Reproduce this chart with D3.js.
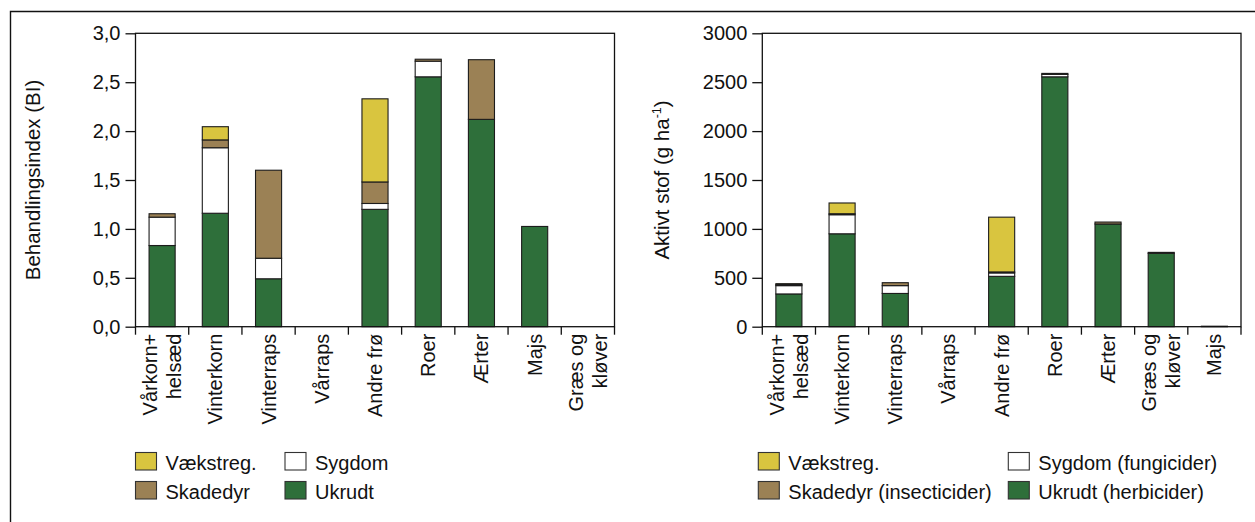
<!DOCTYPE html>
<html>
<head>
<meta charset="utf-8">
<script src="https://cdn.jsdelivr.net/npm/d3@7"></script>
<style>
  html, body { margin: 0; padding: 0; background: #fff; }
  svg { display: block; font-family: "Liberation Sans", Arial, sans-serif; }
</style>
</head>
<body>
<svg id="fig" width="1255" height="522"></svg>
<script>
// Crop groups, one list per panel (the right panel swaps the last two)
const categoriesBI = ["Vårkorn+\nhelsæd", "Vinterkorn", "Vinterraps", "Vårraps", "Andre frø", "Roer", "Ærter", "Majs", "Græs og\nkløver"];
const categoriesAS = ["Vårkorn+\nhelsæd", "Vinterkorn", "Vinterraps", "Vårraps", "Andre frø", "Roer", "Ærter", "Græs og\nkløver", "Majs"];

// Behandlingsindex per pesticide group
const ukrudtBI    = [0.83, 1.16, 0.49, 0, 1.20, 2.555, 2.12, 1.025, 0];
const sygdomBI    = [0.29, 0.67, 0.21, 0, 0.06, 0.16, 0, 0, 0];
const skadedyrBI  = [0.035, 0.08, 0.90, 0, 0.22, 0.02, 0.61, 0, 0];
const vaekstregBI = [0, 0.135, 0, 0, 0.85, 0, 0, 0, 0];

// Aktivt stof (g/ha) per pesticide group
const ukrudtAS    = [335, 950, 340, 0, 515, 2555, 1050, 750, 5];
const sygdomAS    = [85, 195, 80, 0, 35, 25, 0, 0, 0];
const skadedyrAS  = [10, 10, 30, 0, 10, 10, 20, 10, 0];
const vaekstregAS = [10, 110, 0, 0, 560, 0, 0, 0, 0];

const ticksBI = [0, 0.5, 1.0, 1.5, 2.0, 2.5, 3.0];
const ticksAS = [0, 500, 1000, 1500, 2000, 2500, 3000];

const legendBI = ["Vækstreg.", "Sygdom", "Skadedyr", "Ukrudt"];
const legendAS = ["Vækstreg.", "Sygdom (fungicider)", "Skadedyr (insecticider)", "Ukrudt (herbicider)"];
const legendKeys = ["vaekstreg", "sygdom", "skadedyr", "ukrudt"];

// stacking order, bottom to top
const stackKeys = ["ukrudt", "sygdom", "skadedyr", "vaekstreg"];
const colors = { ukrudt: "#2e6f3a", sygdom: "#ffffff", skadedyr: "#9b8155", vaekstreg: "#d9c53f" };

const svg = d3.select("#fig");

// outer figure frame
svg.append("path")
  .attr("d", "M10.5,530 V11.5 H1265")
  .attr("fill", "none").attr("stroke", "#111").attr("stroke-width", 1.4);

function panel(opts) {
  const { left, right, top, bottom, cats, series, maxY, ticks, fmt, title, legend, legendCols, titleX } = opts;
  const g = svg.append("g");

  const x = d3.scaleBand().domain(cats).range([left, right]).paddingInner(0).paddingOuter(0);
  const y = d3.scaleLinear().domain([0, maxY]).range([bottom, top]);

  const rows = cats.map((c, i) => {
    const r = { cat: c };
    stackKeys.forEach(k => r[k] = series[k][i]);
    return r;
  });
  const stacked = d3.stack().keys(stackKeys)(rows);

  const barW = x.bandwidth() * 0.49;
  stacked.forEach(layer => {
    g.append("g").selectAll("rect")
      .data(layer.filter(d => d[1] - d[0] > 0))
      .join("rect")
      .attr("x", d => x(d.data.cat) + (x.bandwidth() - barW) / 2)
      .attr("width", barW)
      .attr("y", d => y(d[1]))
      .attr("height", d => Math.max(0.5, y(d[0]) - y(d[1])))
      .attr("fill", colors[layer.key])
      .attr("stroke", "#1c1c1c")
      .attr("stroke-width", 1.1);
  });

  // plot frame
  g.append("rect")
    .attr("x", left).attr("y", top)
    .attr("width", right - left).attr("height", bottom - top)
    .attr("fill", "none").attr("stroke", "#111").attr("stroke-width", 1.3);

  // y axis
  const yAxis = d3.axisLeft(y).tickValues(ticks).tickFormat(fmt).tickSize(10).tickPadding(5).tickSizeOuter(0);
  const ya = g.append("g").attr("transform", `translate(${left},0)`).call(yAxis);
  ya.select(".domain").remove();
  ya.selectAll(".tick line").attr("stroke", "#111").attr("stroke-width", 1.3);
  ya.selectAll(".tick text").attr("font-size", 20).attr("font-family", "Liberation Sans, Arial, sans-serif").attr("fill", "#111");

  // x ticks at category boundaries
  const bounds = cats.map(c => x(c)).concat([x.range()[1]]);
  g.append("g").selectAll("line").data(bounds).join("line")
    .attr("x1", d => d).attr("x2", d => d)
    .attr("y1", bottom).attr("y2", bottom + 8)
    .attr("stroke", "#111").attr("stroke-width", 1.3);

  // rotated category labels
  cats.forEach(c => {
    const lines = c.split("\n");
    const cx = x(c) + x.bandwidth() / 2;
    const lg = g.append("g").attr("transform", `translate(${cx},${bottom + 7}) rotate(-90)`);
    lines.forEach((ln, i) => {
      lg.append("text")
        .attr("x", 0)
        .attr("y", (i - (lines.length - 1) / 2) * 24)
        .attr("dy", "0.35em")
        .attr("text-anchor", "end")
        .attr("font-size", 20)
        .attr("fill", "#111")
        .text(ln);
    });
  });

  // y title
  const tt = g.append("text")
    .attr("transform", `translate(${titleX},${(top + bottom) / 2}) rotate(-90)`)
    .attr("text-anchor", "middle")
    .attr("font-size", 20.5)
    .attr("fill", "#111");
  title(tt);

  // legend
  const lgd = g.append("g");
  legend.forEach((lab, i) => {
    const col = i % 2, row = Math.floor(i / 2);
    const lx = left + legendCols[col];
    const ly = 452.5 + row * 29;
    lgd.append("rect")
      .attr("x", lx).attr("y", ly).attr("width", 21).attr("height", 17.5)
      .attr("fill", colors[legendKeys[i]])
      .attr("stroke", "#333").attr("stroke-width", 1.1);
    lgd.append("text")
      .attr("x", lx + 30).attr("y", ly + 17.5)
      .attr("font-size", 20)
      .attr("fill", "#111")
      .text(lab);
  });
}

const commaFmt = d => d3.format(".1f")(d).replace(".", ",");

panel({
  left: 135.5, right: 614.5, top: 33.3, bottom: 326.7,
  cats: categoriesBI,
  series: { ukrudt: ukrudtBI, sygdom: sygdomBI, skadedyr: skadedyrBI, vaekstreg: vaekstregBI },
  maxY: 3, ticks: ticksBI, fmt: commaFmt,
  titleX: 40,
  title: t => t.text("Behandlingsindex (BI)"),
  legend: legendBI, legendCols: [0, 149.5]
});

panel({
  left: 762.3, right: 1241, top: 33.3, bottom: 326.7,
  cats: categoriesAS,
  series: { ukrudt: ukrudtAS, sygdom: sygdomAS, skadedyr: skadedyrAS, vaekstreg: vaekstregAS },
  maxY: 3000, ticks: ticksAS, fmt: d3.format("d"),
  titleX: 669,
  title: t => {
    t.append("tspan").text("Aktivt stof (g ha");
    t.append("tspan").attr("font-size", 12.5).attr("dy", -8).text("-1");
    t.append("tspan").attr("dy", 8).text(")");
  },
  legend: legendAS, legendCols: [-4, 246]
});
</script>
</body>
</html>
